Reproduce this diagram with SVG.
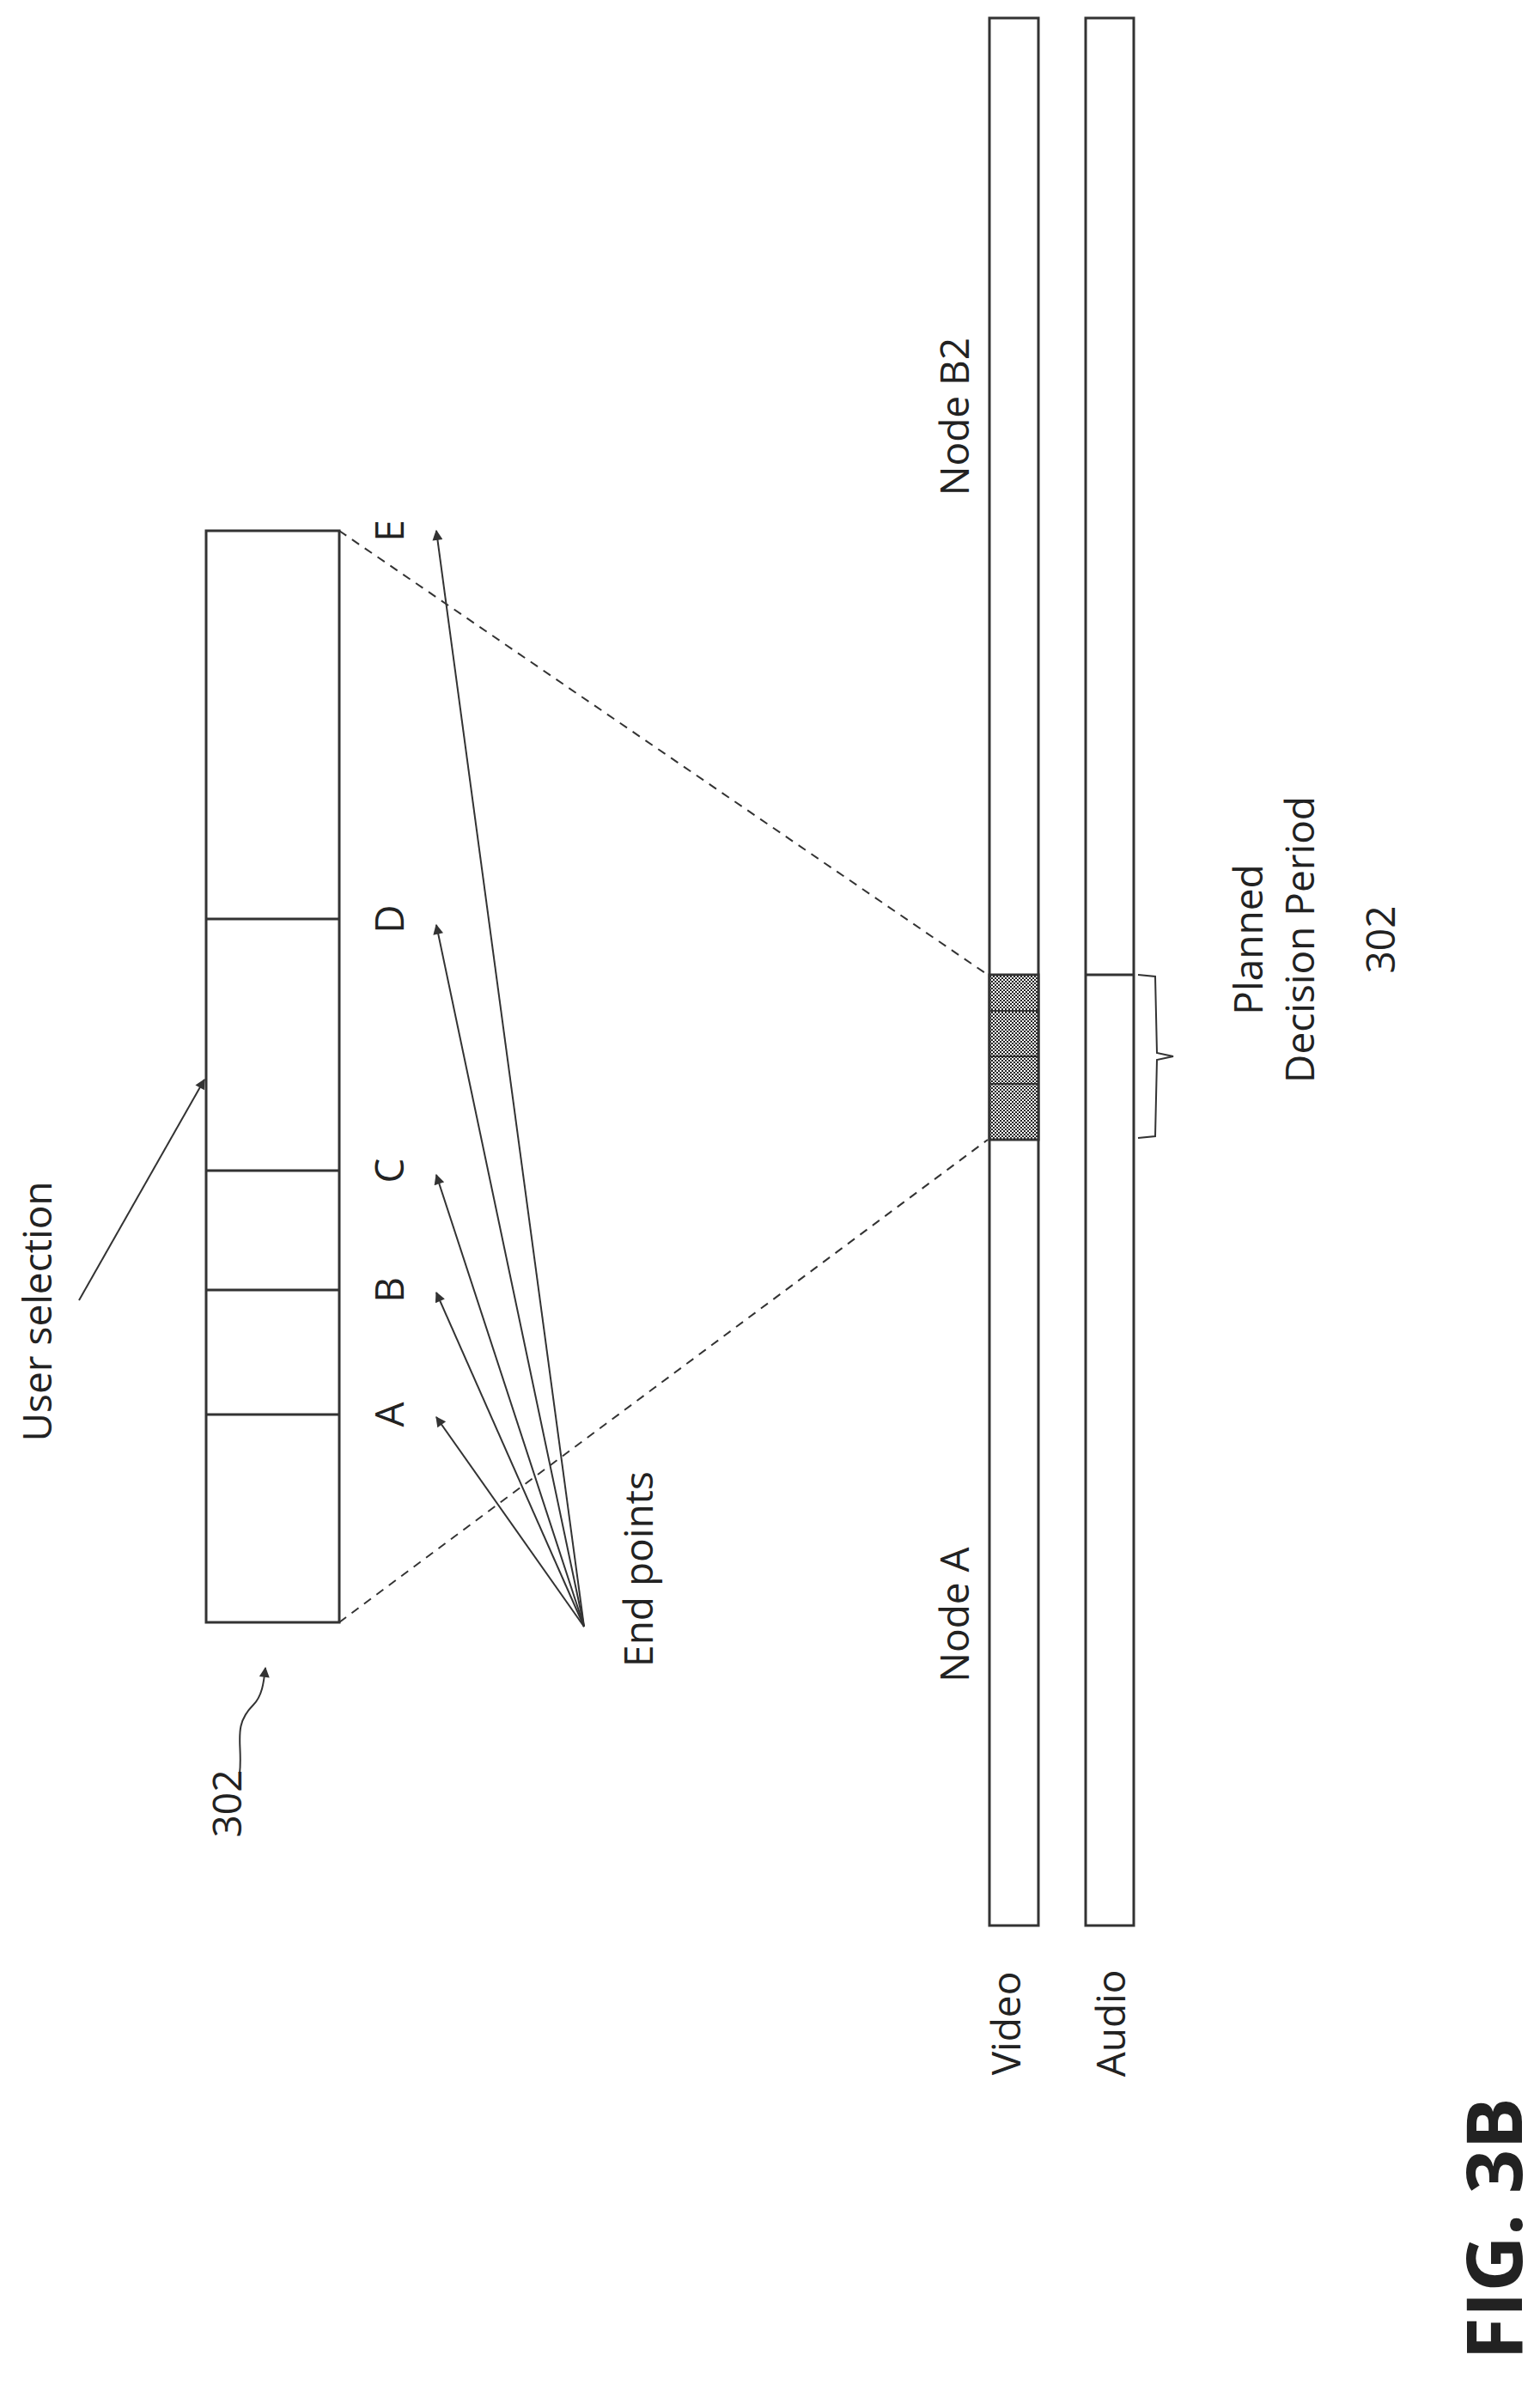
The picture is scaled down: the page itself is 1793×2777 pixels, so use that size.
<svg xmlns="http://www.w3.org/2000/svg" width="1793" height="2777" viewBox="0 0 1793 2777">
<style>
.t{font-family:"Open Sans","Liberation Sans",sans-serif;font-size:46px;fill:#222}
.s{fill:none;stroke:#333;stroke-width:3}
.c{fill:none;stroke:#333;stroke-width:2}
.d{fill:none;stroke:#333;stroke-width:2;stroke-dasharray:10,8}
</style>
<defs>
<pattern id="chk" width="4" height="4" patternUnits="userSpaceOnUse"><rect width="4" height="4" fill="#fff"/><rect width="2" height="2" fill="#222"/><rect x="2" y="2" width="2" height="2" fill="#222"/></pattern>
<marker id="ah" viewBox="0 0 10 10" refX="9" refY="5" markerWidth="16" markerHeight="12" orient="auto" markerUnits="userSpaceOnUse"><path d="M0,0L10,5L0,10z" fill="#333"/></marker>
</defs>
<rect width="1793" height="2777" fill="#fff"/>
<g id="box302">
<rect class="s" x="240" y="618" width="155" height="1271"/>
<line class="s" x1="240" y1="1070" x2="395" y2="1070"/>
<line class="s" x1="240" y1="1363" x2="395" y2="1363"/>
<line class="s" x1="240" y1="1502" x2="395" y2="1502"/>
<line class="s" x1="240" y1="1647" x2="395" y2="1647"/>
</g>
<g id="video">
<rect class="s" x="1152" y="21" width="57" height="2221"/>
<rect x="1152" y="1135" width="57" height="192" fill="url(#chk)" stroke="#333" stroke-width="3"/>
<line class="c" x1="1152" y1="1177" x2="1209" y2="1177" stroke="#555"/>
<line class="c" x1="1152" y1="1230" x2="1209" y2="1230" stroke="#555"/>
<line class="c" x1="1152" y1="1262" x2="1209" y2="1262" stroke="#555"/>
</g>
<g id="audio">
<rect class="s" x="1264" y="21" width="56" height="2221"/>
<line class="s" x1="1264" y1="1135" x2="1320" y2="1135"/>
</g>
<g id="connectors">
<line class="d" x1="395" y1="618" x2="1150" y2="1135"/>
<line class="d" x1="395" y1="1889" x2="1150" y2="1327"/>
<line class="c" x1="680" y1="1894" x2="508" y2="1650" marker-end="url(#ah)"/>
<line class="c" x1="680" y1="1894" x2="508" y2="1505" marker-end="url(#ah)"/>
<line class="c" x1="680" y1="1894" x2="508" y2="1368" marker-end="url(#ah)"/>
<line class="c" x1="680" y1="1894" x2="508" y2="1077" marker-end="url(#ah)"/>
<line class="c" x1="680" y1="1894" x2="508" y2="618" marker-end="url(#ah)"/>
<line class="c" x1="92" y1="1514" x2="238" y2="1257" marker-end="url(#ah)"/>
<path class="c" d="M279,2065 C283,2030 270,2010 295,1985 C305,1975 307,1960 309,1942" marker-end="url(#ah)"/>
<path class="c" d="M1325,1135 L1345,1137 L1347,1226 L1366,1230 L1347,1234 L1345,1323 L1325,1325"/>
</g>
<g id="labels">
<text class="t" transform="translate(470,618) rotate(-90)" text-anchor="middle">E</text>
<text class="t" transform="translate(470,1070) rotate(-90)" text-anchor="middle">D</text>
<text class="t" transform="translate(470,1363) rotate(-90)" text-anchor="middle">C</text>
<text class="t" transform="translate(470,1502) rotate(-90)" text-anchor="middle">B</text>
<text class="t" transform="translate(470,1647) rotate(-90)" text-anchor="middle">A</text>
<text class="t" transform="translate(760,1827) rotate(-90)" text-anchor="middle">End points</text>
<text class="t" transform="translate(60,1527) rotate(-90)" text-anchor="middle">User selection</text>
<text class="t" transform="translate(281,2100) rotate(-90)" text-anchor="middle">302</text>
<text class="t" transform="translate(1128,485) rotate(-90)" text-anchor="middle">Node B2</text>
<text class="t" transform="translate(1128,1880) rotate(-90)" text-anchor="middle">Node A</text>
<text class="t" transform="translate(1188,2356) rotate(-90)" text-anchor="middle">Video</text>
<text class="t" transform="translate(1310,2356) rotate(-90)" text-anchor="middle">Audio</text>
<text class="t" transform="translate(1470,1094) rotate(-90)" text-anchor="middle">Planned</text>
<text class="t" transform="translate(1530,1094) rotate(-90)" text-anchor="middle">Decision Period</text>
<text class="t" transform="translate(1624,1094) rotate(-90)" text-anchor="middle">302</text>
<text class="t" transform="translate(1772,2595) rotate(-90)" text-anchor="middle" style="font-size:90px;font-weight:bold">FIG. 3B</text>
</g>
</svg>
